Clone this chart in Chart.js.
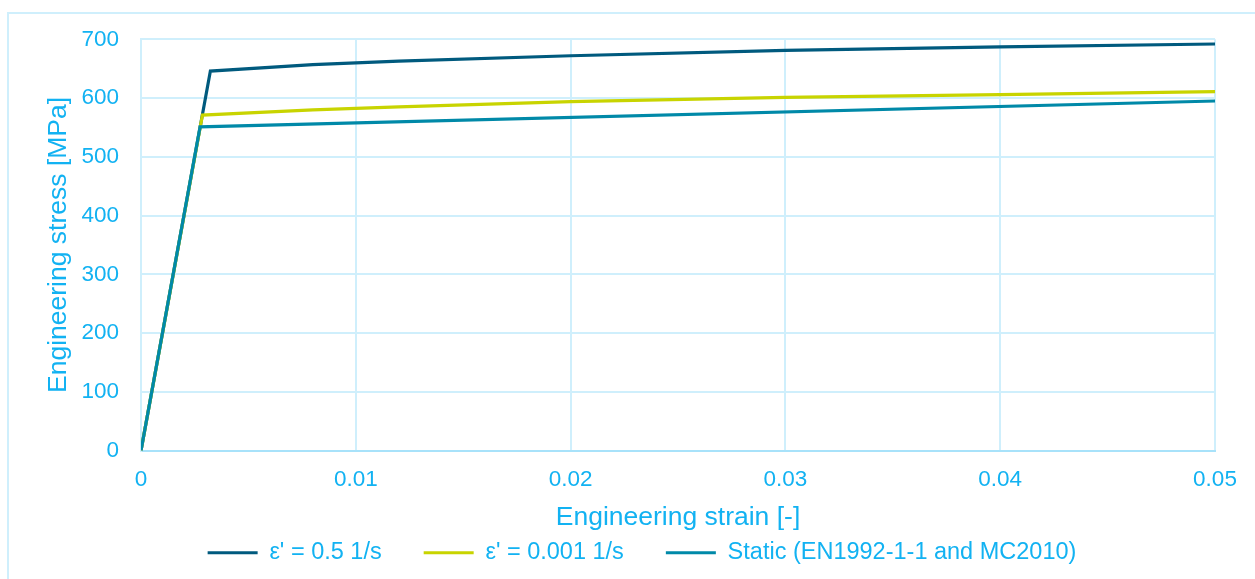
<!DOCTYPE html>
<html>
<head>
<meta charset="utf-8">
<script src="https://cdn.jsdelivr.net/npm/chart.js@4/dist/chart.umd.min.js"></script>
<style>
  html, body { margin: 0; padding: 0; background: #ffffff; }
  #wrap { position: relative; width: 1255px; height: 579px; overflow: hidden; }
  #frame { position: absolute; left: 7px; top: 12px; width: 1400px; height: 700px;
           border-left: 2px solid #CFEFFC; border-top: 2px solid #CFEFFC; }
  canvas { position: absolute; left: 0; top: 0; }
</style>
</head>
<body>
<div id="wrap">
  <div id="frame"></div>
  <canvas id="c" width="1255" height="579"></canvas>
</div>
<script>
// ---- data ----
const seriesNames = ["ε' = 0.5 1/s", "ε' = 0.001 1/s", "Static (EN1992-1-1 and MC2010)"];
const strainFast   = [0, 0.00323, 0.008, 0.012, 0.02, 0.03, 0.04, 0.05];
const stressFast   = [0, 646, 657, 663, 672, 681, 687, 692];
const strainSlow   = [0, 0.00286, 0.008, 0.012, 0.02, 0.03, 0.04, 0.05];
const stressSlow   = [0, 571, 580, 585, 594, 601, 606, 611];
const strainStatic = [0, 0.00275, 0.05];
const stressStatic = [0, 551, 595];
const xTickValues  = [0, 0.01, 0.02, 0.03, 0.04, 0.05];
const yTickValues  = [0, 100, 200, 300, 400, 500, 600, 700];
const xTitle = 'Engineering strain [-]';
const yTitle = 'Engineering stress [MPa]';

// ---- styles ----
const FONT = '"Liberation Sans", Arial, sans-serif';
const TEXT = '#12B2F2';
const GRID = '#CFEFFC';
const AXIS = '#A8E2FA';
const colors = ['#005A7E', '#C8D400', '#0089A8'];

const toPts = (xs, ys) => xs.map((x, i) => ({ x: x, y: ys[i] }));

const datasets = [
  { label: seriesNames[0], data: toPts(strainFast, stressFast), order: 3 },
  { label: seriesNames[1], data: toPts(strainSlow, stressSlow), order: 2 },
  { label: seriesNames[2], data: toPts(strainStatic, stressStatic), order: 1 }
].map((d, i) => Object.assign(d, {
  borderColor: colors[i], backgroundColor: colors[i], borderWidth: 3.2,
  pointRadius: 0, pointHoverRadius: 0, tension: 0, fill: false, showLine: true,
  borderJoinStyle: 'miter', borderCapStyle: 'butt'
}));

new Chart(document.getElementById('c'), {
  type: 'scatter',
  data: { datasets: datasets },
  options: {
    responsive: false,
    animation: false,
    events: [],
    layout: { padding: { left: 69, right: 40, top: 39.3, bottom: 4.5 } },
    plugins: {
      legend: {
        position: 'bottom',
        labels: {
          usePointStyle: true, pointStyle: 'line', pointStyleWidth: 50,
          padding: 42, color: TEXT, font: { family: FONT, size: 23.5 },
          sort: (a, b) => a.datasetIndex - b.datasetIndex
        }
      },
      tooltip: { enabled: false }
    },
    scales: {
      x: {
        type: 'linear', min: 0, max: 0.05,
        afterBuildTicks: s => { s.ticks = xTickValues.map(v => ({ value: v })); },
        afterFit: s => { s.height = 48.4; },
        ticks: { padding: 16, color: TEXT, font: { family: FONT, size: 22.5 },
                 callback: v => String(v), maxRotation: 0, autoSkip: false },
        grid: { color: GRID, lineWidth: 2, drawTicks: false },
        border: { color: AXIS, width: 2 },
        title: { display: true, text: xTitle, color: TEXT,
                 font: { family: FONT, size: 26.5 }, padding: { top: 0, bottom: -35 } }
      },
      y: {
        type: 'linear', min: 0, max: 700,
        afterBuildTicks: s => { s.ticks = yTickValues.map(v => ({ value: v })); },
        afterFit: s => { s.width = 72; },
        ticks: { padding: 22, color: TEXT, font: { family: FONT, size: 22.5 },
                 callback: v => String(v), autoSkip: false },
        grid: { color: GRID, lineWidth: 2, drawTicks: false },
        border: { color: GRID, width: 2 },
        title: { display: true, text: yTitle, color: TEXT,
                 font: { family: FONT, size: 26.5 }, padding: { top: -26, bottom: 0 } }
      }
    }
  }
});
</script>
</body>
</html>
